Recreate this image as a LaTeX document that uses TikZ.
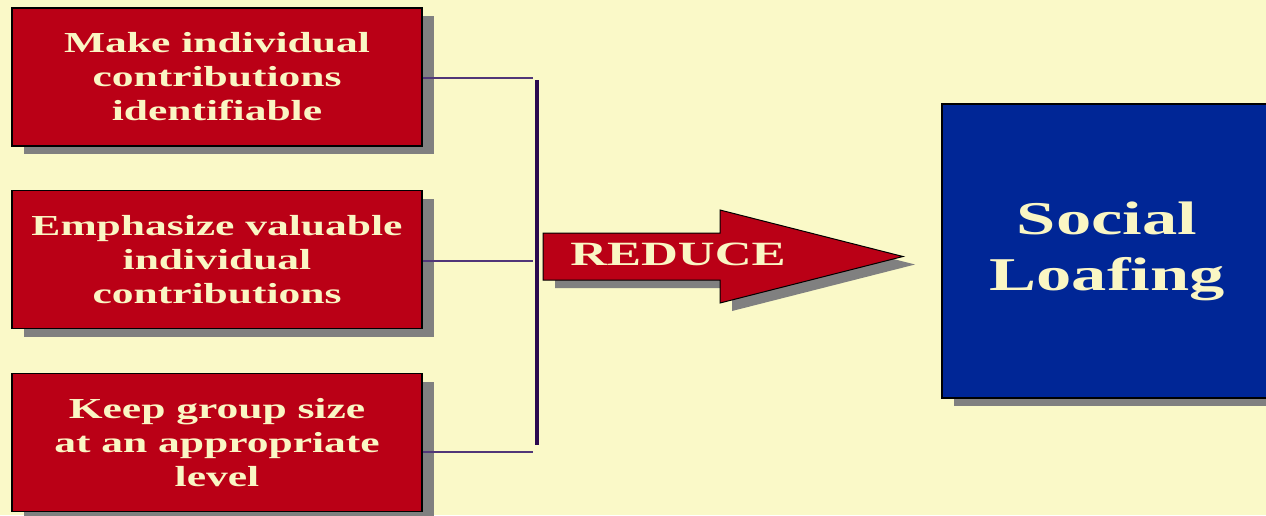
\documentclass[tikz,border=0pt]{standalone}
\usepackage{fontspec}
\setmainfont{Liberation Serif}
\newfontfamily\widefont[FakeStretch=1.5]{Liberation Serif}
\usetikzlibrary{shadows,calc}
\definecolor{paper}{RGB}{250,249,200}
\definecolor{boxred}{RGB}{186,0,22}
\definecolor{cream}{RGB}{250,246,196}
\definecolor{deepblue}{RGB}{0,38,150}
\definecolor{barpurple}{RGB}{43,10,79}
\definecolor{linkpurple}{RGB}{80,55,120}

\begin{document}
\begin{tikzpicture}[x=1pt, y=-1pt,
  hardshadow/.style={drop shadow={shadow xshift=12pt, shadow yshift=-8pt, fill=black!50, opacity=1}},
  reason/.style={draw=black, line width=1.4pt, fill=boxred, text=cream, minimum width=410pt, minimum height=138pt, inner sep=0pt, align=center, font=\widefont\bfseries\fontsize{29}{34}\selectfont, hardshadow},
  target/.style={draw=black, line width=1.4pt, fill=deepblue, text=cream, minimum width=330pt, minimum height=294pt, inner sep=0pt, align=center, font=\widefont\bfseries\fontsize{47}{56}\selectfont, hardshadow},
  link/.style={linkpurple, line width=1.3pt}
]
  \useasboundingbox (0,0) rectangle (1266,515);
  \clip (0,0) rectangle (1266,515);
  \fill[paper] (0,0) rectangle (1266,515);

  \node[reason] (ident) at (217,77) {Make individual\\contributions\\identifiable};
  \node[reason] (value) at (217,259.5) {Emphasize valuable\\individual\\contributions};
  \node[reason] (size) at (217,442.5) {Keep group size\\at an appropriate\\level};

  % bracket joining the three measures
  \coordinate (bartop) at (537,80);
  \coordinate (barbot) at (537,445);
  \draw[barpurple, line width=4pt] (bartop) -- (barbot);
  \draw[link] ([yshift=-1pt]ident.east) -- ++(110,0);
  \draw[link] ([yshift=-1.5pt]value.east) -- ++(110,0);
  \draw[link] ([yshift=-9.5pt]size.east) -- ++(110,0);

  % big arrow
  \filldraw[draw=black, line width=1pt, fill=boxred, hardshadow]
    (543,233) -- (720,233) -- (720,210) -- (903,256.5) -- (720,303) -- (720,280) -- (543,280) -- cycle;
  \node[text=cream, inner sep=0pt, font=\widefont\bfseries\fontsize{34}{40}\selectfont] (reduce) at (678,254) {REDUCE};

  \node[target] (loafing) at (1107,251) {Social\\Loafing};
\end{tikzpicture}
\end{document}
